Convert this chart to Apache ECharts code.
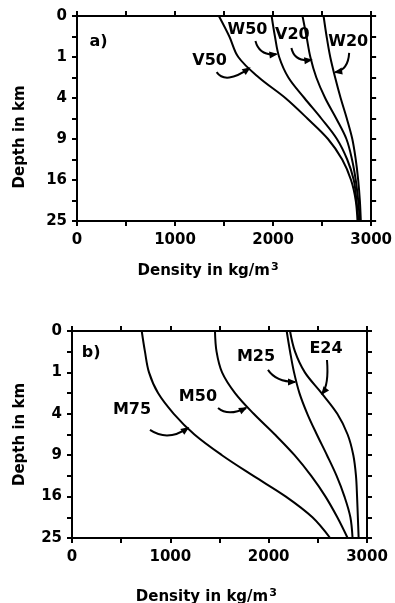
<!DOCTYPE html>
<html><head><meta charset="utf-8">
<script src="https://cdn.jsdelivr.net/npm/echarts@6/dist/echarts.min.js"></script>
<style>html,body{margin:0;padding:0;background:#fff}#c{width:395px;height:603px}</style>
</head><body><div id="c"></div>
<script>
// ---- data ----
const depthKm = [0, 0.25, 1, 2.25, 4, 6.25, 9, 12.25, 16, 20.25, 25];
const yTickLabels = [0, 1, 4, 9, 16, 25];
const xTickLabels = [0, 1000, 2000, 3000];
const seriesNamesA = ['V50', 'W50', 'V20', 'W20'];
const V50 = [1447, 1554, 1645, 1855, 2125, 2350, 2560, 2705, 2795, 2843, 2861];
const W50 = [1985, 2019, 2062, 2156, 2319, 2492, 2651, 2756, 2823, 2850, 2871];
const V20 = [2300, 2341, 2380, 2441, 2531, 2644, 2748, 2805, 2843, 2868, 2885];
const W20 = [2515, 2546, 2583, 2633, 2689, 2752, 2808, 2843, 2868, 2885, 2895];
const seriesNamesB = ['M75', 'M50', 'M25', 'E24'];
const M75 = [709, 742, 783, 875, 1035, 1245, 1525, 1845, 2175, 2445, 2625];
const M50 = [1454, 1470, 1526, 1658, 1848, 2063, 2263, 2433, 2578, 2698, 2803];
const M25 = [2183, 2218, 2258, 2313, 2393, 2490, 2593, 2691, 2771, 2831, 2853];
const E24 = [2217, 2268, 2368, 2538, 2698, 2803, 2861, 2888, 2899, 2907, 2915];
const panelTitles = ['a)', 'b)'];
const xName = 'Density in kg/m';
const yName = 'Depth in km';

// ---- annotation layout (density, sqrt-depth axis units) ----
const annotA = [
  {t: 'V50', at: [1353, 1.10], arrow: [[1424, 1.37], [1515, 1.68], [1759, 1.27]]},
  {t: 'W50', at: [1739, 0.34], arrow: [[1820, 0.61], [1861, 0.98], [2034, 0.93]]},
  {t: 'V20', at: [2197, 0.46], arrow: [[2187, 0.78], [2217, 1.12], [2390, 1.07]]},
  {t: 'W20', at: [2766, 0.63], arrow: [[2776, 0.90], [2766, 1.32], [2634, 1.37]]}
];
const annotB = [
  {t: 'M75', at: [610, 1.91], arrow: [[793, 2.39], [976, 2.68], [1180, 2.34]]},
  {t: 'M50', at: [1281, 1.59], arrow: [[1485, 1.86], [1587, 2.07], [1770, 1.86]]},
  {t: 'M25', at: [1871, 0.63], arrow: [[1993, 0.94], [2075, 1.23], [2268, 1.23]]},
  {t: 'E24', at: [2583, 0.43], arrow: [[2593, 0.70], [2614, 1.30], [2543, 1.52]]}
];

const FONT = 'DejaVu Sans';
const chart = echarts.init(document.getElementById('c'), null, {renderer: 'canvas'});

function xAx(grid, pos, showLabels) {
  return {
    type: 'value', gridIndex: grid, position: pos, min: 0, max: 3000, interval: 500,
    axisLine: {show: true, onZero: false, lineStyle: {color: '#000', width: 2}},
    axisTick: {show: true, inside: false, length: 5, lineStyle: {color: '#000', width: 2}},
    splitLine: {show: false},
    axisLabel: {show: showLabels, margin: 12, color: '#000', fontFamily: FONT, fontWeight: 'bold', fontSize: 15,
      formatter: v => xTickLabels.includes(v) ? String(v) : ''}
  };
}
function yAx(grid, pos, showLabels) {
  return {
    type: 'value', gridIndex: grid, position: pos, min: 0, max: 5, interval: 0.5, inverse: true,
    axisLine: {show: true, onZero: false, lineStyle: {color: '#000', width: 2}},
    axisTick: {show: true, inside: false, length: 5, lineStyle: {color: '#000', width: 2}},
    splitLine: {show: false},
    axisLabel: {show: showLabels, margin: 10, color: '#000', fontFamily: FONT, fontWeight: 'bold', fontSize: 15,
      formatter: v => {
        const r = Math.round(v);
        return Math.abs(v - r) < 1e-6 ? String(yTickLabels[r]) : '';
      }}
  };
}
function mkSeries(name, vals, g) {
  return {
    type: 'line', name, xAxisIndex: g * 2, yAxisIndex: g * 2,
    data: vals.map((v, i) => [v, Math.sqrt(depthKm[i])]),
    smooth: 0.35, showSymbol: false, silent: true,
    lineStyle: {color: '#000', width: 2}
  };
}

chart.setOption({
  animation: false,
  backgroundColor: '#fff',
  grid: [
    {left: 77, top: 16, width: 295, height: 205},
    {left: 72, top: 331, width: 295, height: 207}
  ],
  xAxis: [xAx(0, 'bottom', true), xAx(0, 'top', false), xAx(1, 'bottom', true), xAx(1, 'top', false)],
  yAxis: [yAx(0, 'left', true), yAx(0, 'right', false), yAx(1, 'left', true), yAx(1, 'right', false)],
  series: [
    mkSeries(seriesNamesA[0], V50, 0), mkSeries(seriesNamesA[1], W50, 0),
    mkSeries(seriesNamesA[2], V20, 0), mkSeries(seriesNamesA[3], W20, 0),
    mkSeries(seriesNamesB[0], M75, 1), mkSeries(seriesNamesB[1], M50, 1),
    mkSeries(seriesNamesB[2], M25, 1), mkSeries(seriesNamesB[3], E24, 1)
  ]
});

// ---- annotations ----
const gfx = [];
function px(g, p) { return chart.convertToPixel({gridIndex: g}, p); }
function addAnnot(g, list) {
  list.forEach(a => {
    const c = px(g, a.at);
    gfx.push({type: 'text', x: c[0], y: c[1], silent: true,
      style: {text: a.t, align: 'center', verticalAlign: 'middle', fill: '#000',
        font: 'bold 16px "' + FONT + '"'}});
    const s = px(g, a.arrow[0]), m = px(g, a.arrow[1]), e = px(g, a.arrow[2]);
    gfx.push({type: 'bezierCurve', silent: true,
      shape: {x1: s[0], y1: s[1], cpx1: m[0], cpy1: m[1], x2: e[0], y2: e[1]},
      style: {stroke: '#000', lineWidth: 2, fill: null}});
    let dx = e[0] - m[0], dy = e[1] - m[1];
    const L = Math.hypot(dx, dy) || 1; dx /= L; dy /= L;
    const len = 7, hw = 3.5;
    const bx = e[0] - dx * len, by = e[1] - dy * len;
    gfx.push({type: 'polygon', silent: true,
      shape: {points: [[e[0] + dx * 1.5, e[1] + dy * 1.5], [bx - dy * hw, by + dx * hw], [bx + dy * hw, by - dx * hw]]},
      style: {fill: '#000'}});
  });
}
addAnnot(0, annotA);
addAnnot(1, annotB);

// panel titles
[[0, [220, 0.62]], [1, [195, 0.52]]].forEach(([g, p], i) => {
  const c = px(g, p);
  gfx.push({type: 'text', x: c[0], y: c[1], silent: true,
    style: {text: panelTitles[i], align: 'center', verticalAlign: 'middle', fill: '#000', font: 'bold 16px "' + FONT + '"'}});
});

// axis names
function axisNames(g, yCenterSq, yNameX, xCenterD, xNameY) {
  const yc = px(g, [0, yCenterSq]);
  gfx.push({type: 'text', x: yNameX, y: yc[1], rotation: Math.PI / 2, silent: true,
    style: {text: yName, align: 'center', verticalAlign: 'middle', fill: '#000', font: 'bold 15px "' + FONT + '"'}});
  const xc = px(g, [xCenterD, 0]);
  gfx.push({type: 'text', x: xc[0], y: xNameY, silent: true,
    style: {text: xName + '{s|3}', align: 'center', verticalAlign: 'middle', fill: '#000',
      font: 'bold 15px "' + FONT + '"',
      rich: {s: {fontSize: 11, fontWeight: 'bold', fontFamily: FONT, verticalAlign: 'top', padding: [0, 0, 8, 1]}}}});
}
axisNames(0, 2.95, 20, 1337, 271);
axisNames(1, 2.5, 20, 1366, 597);

chart.setOption({graphic: {elements: gfx}});
</script>
</body></html>
